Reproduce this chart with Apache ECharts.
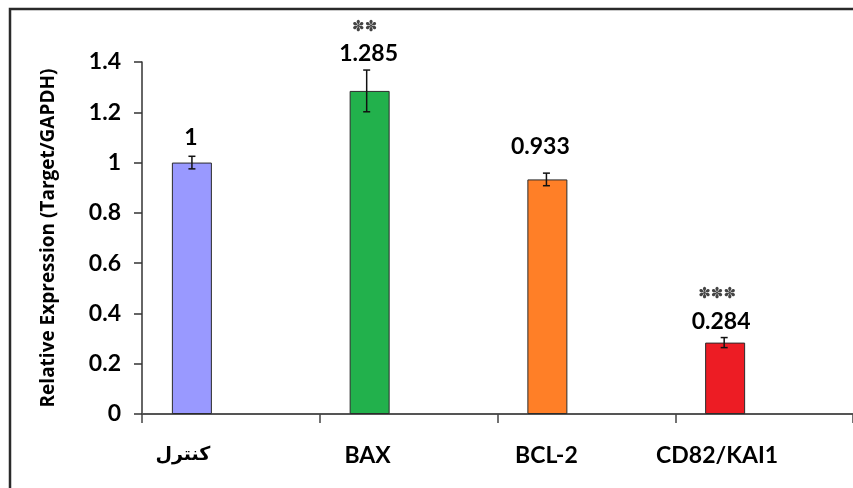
<!DOCTYPE html>
<html>
<head>
<meta charset="utf-8">
<script src="https://cdn.jsdelivr.net/npm/echarts@6/dist/echarts.min.js"></script>
<style>
  html, body { margin: 0; padding: 0; background: #fff; }
  #chart { width: 853px; height: 488px; }
</style>
</head>
<body>
<div id="chart"></div>
<script>
// Gene expression relative to GAPDH
const categories = ['كنترل', 'BAX', 'BCL-2', 'CD82/KAI1'];
const expression = [1, 1.285, 0.933, 0.284];
const errors = [0.025, 0.083, 0.025, 0.02];
const significance = ['', '**', '', '***'];
const yMin = 0, yMax = 1.4, yStep = 0.2;

// Styling
const barColors = ['#9999FF', '#22B14C', '#FF7F27', '#ED1C24'];
const FONT = "Lato, 'DejaVu Sans', sans-serif";
const barShift = -39 / 178;               // bar centre offset, as fraction of the band
const labelOffsets = [[-1, -11], [-1, -23], [-7, -19], [-4, -7]];
const errShift = [0, -3, -1, -1];
const xLabelShift = [-48, -41, -40, -47];
const xLabelSize = [19, 23, 23, 23];

const chart = echarts.init(document.getElementById('chart'));

const xRich = {};
categories.forEach((c, i) => {
  xRich['c' + i] = {
    fontFamily: FONT, fontWeight: 'bold', fontSize: xLabelSize[i], color: '#000',
    padding: [0, Math.max(0, -2 * xLabelShift[i]), 0, 0]
  };
});

const option = {
  backgroundColor: '#fff',
  animation: false,
  grid: { left: 142, right: -1, top: 62, bottom: 74, containLabel: false },
  graphic: [{
    type: 'rect',
    shape: { x: 10, y: 9, width: 900, height: 600 },
    style: { fill: 'none', stroke: '#2a2a2a', lineWidth: 2.5 },
    silent: true, z: 100
  }],
  xAxis: {
    type: 'category',
    data: categories,
    boundaryGap: true,
    axisLine: { lineStyle: { color: '#555', width: 2 } },
    axisTick: { show: true, length: 9, inside: false, lineStyle: { color: '#444', width: 1.5 } },
    axisLabel: {
      margin: 30,
      interval: 0,
      formatter: (v, i) => '{c' + i + '|' + v + '}',
      rich: xRich
    }
  },
  yAxis: {
    type: 'value',
    min: yMin, max: yMax, interval: yStep,
    name: 'Relative Expression (Target/GAPDH)',
    nameLocation: 'middle',
    nameGap: 84,
    nameTextStyle: { fontFamily: "'Open Sans', sans-serif", fontWeight: 'bold', fontSize: 19, color: '#000' },
    axisLine: { show: true, lineStyle: { color: '#333', width: 1.5 } },
    axisTick: { show: true, length: 8, lineStyle: { color: '#333', width: 1.5 } },
    splitLine: { show: false },
    axisLabel: {
      margin: 21,
      fontFamily: FONT, fontWeight: 'bold', fontSize: 23, color: '#000'
    }
  },
  series: [
    {
      type: 'bar',
      barWidth: 40,
      barGap: '95%',
      data: expression.map((v, i) => ({
        value: v,
        itemStyle: { color: barColors[i] },
        label: { offset: labelOffsets[i] }
      })),
      itemStyle: { borderColor: '#2b2b2b', borderWidth: 1 },
      label: {
        show: true,
        position: 'top',
        distance: 0,
        formatter: p => {
          const s = significance[p.dataIndex];
          const stars = s ? '{s|' + s.replace(/\*/g, '✽') + '}\n' : '';
          return stars + '{v|' + p.value + '}';
        },
        rich: {
          v: { fontFamily: FONT, fontWeight: 'bold', fontSize: 23, color: '#000', lineHeight: 28 },
          s: { fontFamily: "'DejaVu Sans', sans-serif", fontSize: 15, color: '#444', lineHeight: 26, padding: [0, 8, 0, 0] }
        }
      },
      z: 2
    },
    {
      // empty companion series keeps the bars in the left half of each band
      type: 'bar',
      barWidth: 40,
      data: categories.map(() => '-'),
      z: 1
    },
    {
      type: 'custom',
      data: expression.map((v, i) => [i, v, errors[i]]),
      encode: { x: 0, y: 1 },
      z: 5,
      renderItem: (params, api) => {
        const i = api.value(0), v = api.value(1), e = api.value(2);
        const band = api.size([1, 0])[0];
        const dx = band * barShift + errShift[i];
        const top = api.coord([i, v + e]);
        const bot = api.coord([i, v - e]);
        const x = top[0] + dx;
        const cap = 3.5;
        const st = { stroke: '#111', lineWidth: 1.5 };
        return {
          type: 'group',
          children: [
            { type: 'line', shape: { x1: x, y1: top[1], x2: x, y2: bot[1] }, style: st },
            { type: 'line', shape: { x1: x - cap, y1: top[1], x2: x + cap, y2: top[1] }, style: st },
            { type: 'line', shape: { x1: x - cap, y1: bot[1], x2: x + cap, y2: bot[1] }, style: st }
          ]
        };
      }
    }
  ]
};

chart.setOption(option);
</script>
</body>
</html>
